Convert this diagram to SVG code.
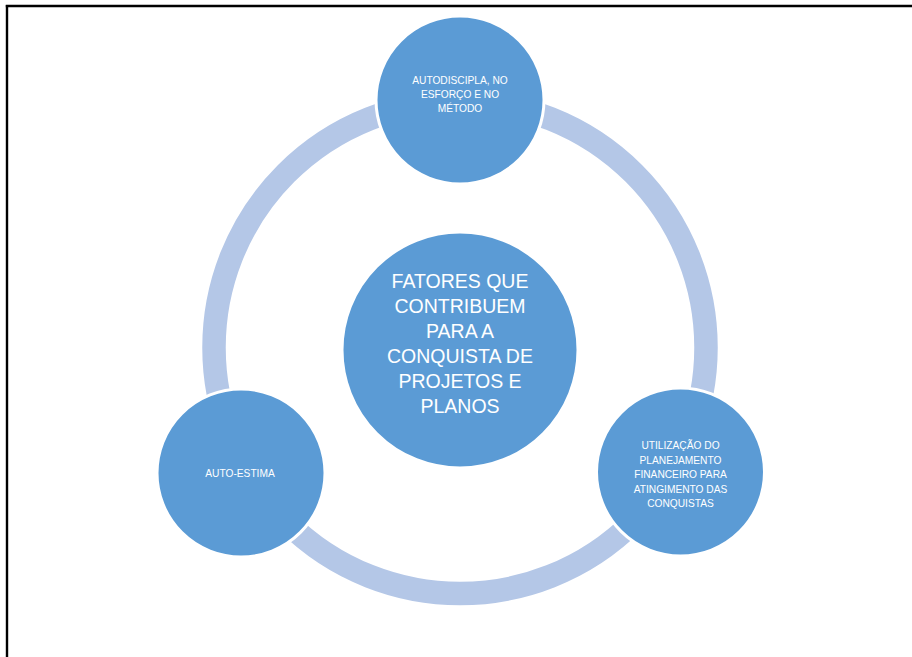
<svg xmlns="http://www.w3.org/2000/svg" width="912" height="657" viewBox="0 0 912 657">
<style>
.node{fill:#5B9BD5;stroke:#FFFFFF;stroke-width:3}
.t{font-family:"Liberation Sans",Arial,sans-serif;fill:#FFFFFF;text-anchor:middle}
.s{font-size:10.2px}
.b{font-size:19.5px}
</style>
<rect x="0" y="0" width="912" height="657" fill="#FFFFFF"/>
<g id="frame" stroke="#000000" stroke-width="2.4" fill="none">
<line x1="5.8" y1="6" x2="912" y2="6"/>
<line x1="7" y1="5" x2="7" y2="657"/>
</g>
<g id="connectors">
<circle cx="460" cy="347.5" r="246" fill="none" stroke="#B4C7E7" stroke-width="23.5"/>
</g>
<g id="node-top">
<circle class="node" cx="460" cy="100" r="84"/>
<text class="t s" x="460" y="83.5">AUTODISCIPLA, NO</text>
<text class="t s" x="460" y="97.5">ESFORÇO E NO</text>
<text class="t s" x="460" y="111.5">MÉTODO</text>
</g>
<g id="node-right">
<circle class="node" cx="680.5" cy="472" r="84"/>
<text class="t s" x="680.5" y="449.3">UTILIZAÇÃO DO</text>
<text class="t s" x="680.5" y="463.8">PLANEJAMENTO</text>
<text class="t s" x="680.5" y="478.3">FINANCEIRO PARA</text>
<text class="t s" x="680.5" y="492.8">ATINGIMENTO DAS</text>
<text class="t s" x="680.5" y="507.3">CONQUISTAS</text>
</g>
<g id="node-left">
<circle class="node" cx="241" cy="473" r="84"/>
<text class="t s" x="240" y="477.3">AUTO-ESTIMA</text>
</g>
<g id="node-center">
<circle class="node" cx="460" cy="350" r="118"/>
<text class="t b" x="460" y="288">FATORES QUE</text>
<text class="t b" x="460" y="313">CONTRIBUEM</text>
<text class="t b" x="460" y="338">PARA A</text>
<text class="t b" x="460" y="363">CONQUISTA DE</text>
<text class="t b" x="460" y="388">PROJETOS E</text>
<text class="t b" x="460" y="413">PLANOS</text>
</g>
</svg>
